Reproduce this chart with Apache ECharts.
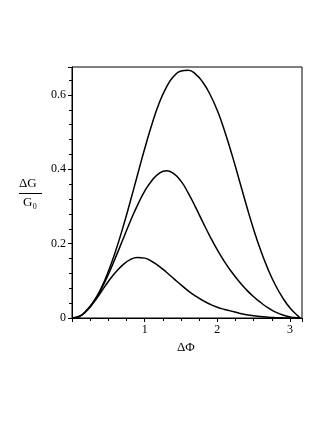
<!DOCTYPE HTML>
<html>
<head>
<meta charset="utf-8">
<title>ΔG/G0 vs ΔΦ</title>
<script src="https://cdn.jsdelivr.net/npm/echarts@6/dist/echarts.min.js"></script>
<style>
    body { margin: 0; padding: 0; background: #fff; }
    #graphic { width: 327px; height: 423px; }
</style>
</head>
<body>
<div id="graphic"></div>
<script type="text/javascript">
// values
var phi = [0, 0.1, 0.2, 0.3, 0.4, 0.5, 0.6, 0.7, 0.8, 0.9, 1.0, 1.1, 1.2, 1.3, 1.4, 1.5,
           1.6, 1.7, 1.8, 1.9, 2.0, 2.1, 2.2, 2.3, 2.4, 2.5, 2.6, 2.7, 2.8, 2.9, 3.0, 3.1, 3.14];
var gHigh = [0, 0.004, 0.02, 0.045, 0.08, 0.125, 0.18, 0.243, 0.312, 0.384, 0.455, 0.521, 0.578, 0.621, 0.65, 0.664,
             0.666, 0.656, 0.634, 0.601, 0.558, 0.503, 0.44, 0.372, 0.303, 0.238, 0.18, 0.13, 0.088, 0.054, 0.027, 0.007, 0];
var gMid = [0, 0.004, 0.02, 0.044, 0.077, 0.117, 0.163, 0.211, 0.259, 0.303, 0.341, 0.37, 0.389, 0.396, 0.388, 0.368,
            0.336, 0.298, 0.258, 0.219, 0.183, 0.151, 0.123, 0.098, 0.076, 0.057, 0.041, 0.027, 0.016, 0.008, 0.003, 0.0005, 0];
var gLow = [0, 0.004, 0.019, 0.042, 0.07, 0.098, 0.123, 0.143, 0.157, 0.163, 0.161, 0.152, 0.139, 0.123, 0.106, 0.089,
            0.073, 0.059, 0.047, 0.037, 0.029, 0.023, 0.018, 0.013, 0.009, 0.006, 0.004, 0.002, 0.001, 0.0005, 0.0002, 0, 0];

function pairs(ys) {
    return phi.map(function (x, i) { return [x, ys[i]]; });
}

var serif = '"Liberation Serif", "DejaVu Serif", serif';
var curve = function (ys) {
    return {
        type: 'line',
        data: pairs(ys),
        showSymbol: false,
        smooth: true,
        lineStyle: { color: '#000', width: 1.5 },
        silent: true
    };
};

var option = {
    animation: false,
    grid: {
        left: 72, right: 25, top: 67, bottom: 105,
        show: true, borderColor: '#000', borderWidth: 1
    },
    xAxis: {
        type: 'value',
        min: 0, max: 3.165, interval: 1,
        axisLine: { show: true, onZero: false, lineStyle: { color: '#000', width: 1 } },
        axisTick: { show: true, inside: false, length: 4, lineStyle: { color: '#000' } },
        minorTick: { show: true, splitNumber: 4, length: 3, lineStyle: { color: '#000' } },
        splitLine: { show: false },
        axisLabel: {
            color: '#000', fontFamily: serif, fontSize: 12, margin: 6,
            showMaxLabel: false,
            formatter: function (v) { return v === 0 ? '' : String(v); }
        }
    },
    yAxis: {
        type: 'value',
        min: 0, max: 0.675, interval: 0.2,
        axisLine: { show: true, lineStyle: { color: '#000', width: 1 } },
        axisTick: { show: true, inside: false, length: 4, lineStyle: { color: '#000' } },
        minorTick: { show: true, splitNumber: 5, length: 3, lineStyle: { color: '#000' } },
        splitLine: { show: false },
        axisLabel: {
            color: '#000', fontFamily: serif, fontSize: 12, margin: 6,
            showMaxLabel: false,
            formatter: function (v) { return v === 0 ? '0' : v.toFixed(1); }
        }
    },
    graphic: [
        { type: 'text', left: 177, top: 341,
          style: { text: 'ΔΦ', font: '13px ' + serif, fill: '#000' } },
        { type: 'text', left: 19, top: 177,
          style: { text: 'ΔG', font: '13px ' + serif, fill: '#000' } },
        { type: 'line', shape: { x1: 19, y1: 193.5, x2: 42, y2: 193.5 },
          style: { stroke: '#000', lineWidth: 1 } },
        { type: 'text', left: 23, top: 196,
          style: { text: 'G₀', font: '13px ' + serif, fill: '#000' } }
    ],
    series: [curve(gHigh), curve(gMid), curve(gLow)]
};

var myChart = echarts.init(document.getElementById('graphic'), null, { renderer: 'canvas' });
myChart.setOption(option);
</script>
</body>
</html>
